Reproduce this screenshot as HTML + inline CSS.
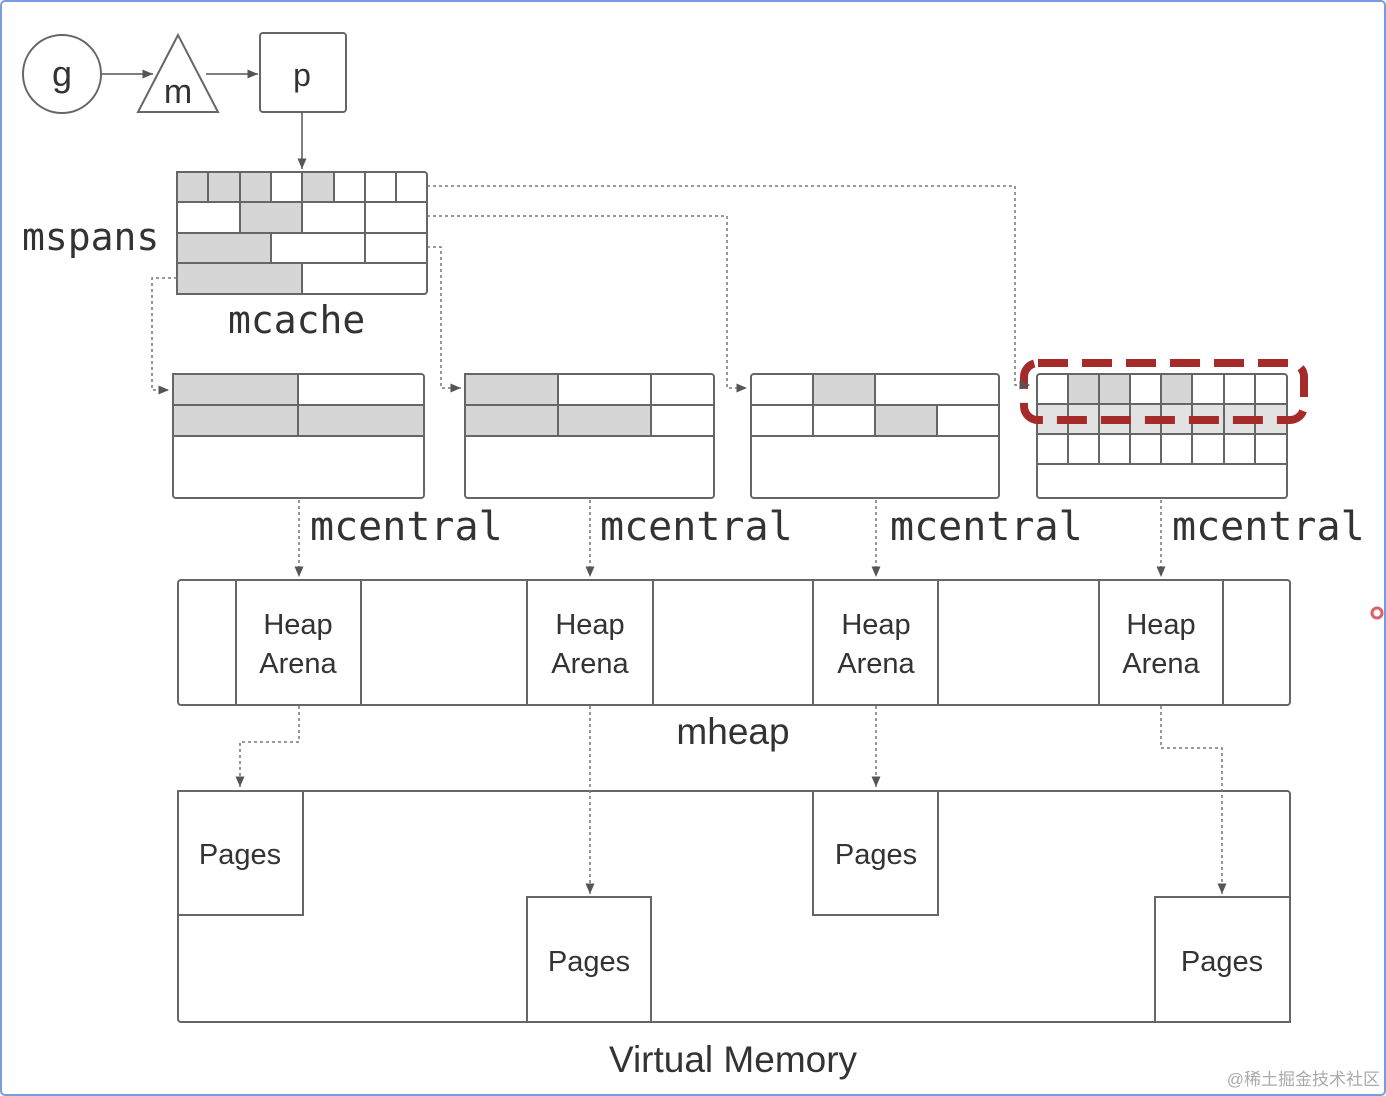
<!DOCTYPE html>
<html><head><meta charset="utf-8"><style>
html,body{margin:0;padding:0;background:#fff}
svg{display:block}
.t{font-family:"Liberation Sans",sans-serif;fill:#333}
.m{font-family:"DejaVu Sans Mono","Liberation Mono",monospace;fill:#333}
</style></head><body>
<svg width="1386" height="1096" viewBox="0 0 1386 1096" xmlns="http://www.w3.org/2000/svg">
<defs>
<marker id="a" markerWidth="8" markerHeight="8" refX="7" refY="4" orient="auto"><path d="M0,1 L7,4 L0,7 z" fill="#555"/></marker>
</defs>
<rect x="1" y="1" width="1384" height="1094" fill="#fff" stroke="#7b9be0" stroke-width="2" rx="4"/>
<g stroke="#666" stroke-width="2" fill="#fff">
<circle cx="62" cy="74" r="39"/>
<polygon points="178,35 138,112 218,112"/>
<rect x="260" y="33" width="86" height="79" rx="3"/>
</g>
<text class="t" x="62" y="86" font-size="36" text-anchor="middle">g</text>
<text class="t" x="178" y="103" font-size="34" text-anchor="middle">m</text>
<text class="t" x="302" y="86" font-size="32" text-anchor="middle">p</text>
<g stroke="#555" stroke-width="1.5" fill="none" marker-end="url(#a)">
<line x1="102" y1="74" x2="153" y2="74"/>
<line x1="206" y1="74" x2="258" y2="74"/>
<line x1="302" y1="112" x2="302" y2="169"/>
</g>
<!-- mcache -->
<g stroke="#666" stroke-width="2">
<rect x="177" y="172" width="250" height="122" rx="3" fill="#fff"/>
<rect x="177" y="172" width="31" height="30" fill="#d6d6d6"/>
<rect x="208" y="172" width="32" height="30" fill="#d6d6d6"/>
<rect x="240" y="172" width="31" height="30" fill="#d6d6d6"/>
<rect x="302" y="172" width="32" height="30" fill="#d6d6d6"/>
<line x1="271" y1="172" x2="271" y2="202"/><line x1="334" y1="172" x2="334" y2="202"/><line x1="365" y1="172" x2="365" y2="202"/><line x1="396" y1="172" x2="396" y2="202"/>
<line x1="177" y1="202" x2="427" y2="202"/>
<rect x="240" y="202" width="62" height="31" fill="#d6d6d6"/>
<line x1="365" y1="202" x2="365" y2="233"/>
<line x1="177" y1="233" x2="427" y2="233"/>
<rect x="177" y="233" width="94" height="30" fill="#d6d6d6"/>
<line x1="365" y1="233" x2="365" y2="263"/>
<line x1="177" y1="263" x2="427" y2="263"/>
<rect x="177" y="263" width="125" height="31" fill="#d6d6d6"/>
</g>
<text class="m" x="22" y="250" font-size="38">mspans</text>
<text class="m" x="228" y="333" font-size="38">mcache</text>
<!-- mcentral -->
<g stroke="#666" stroke-width="2" fill="#fff">
<rect x="173" y="374" width="251" height="124" rx="3"/>
<rect x="173" y="374" width="125" height="31" fill="#d6d6d6"/>
<rect x="173" y="405" width="125" height="31" fill="#d6d6d6"/>
<rect x="298" y="405" width="126" height="31" fill="#d6d6d6"/>
<line x1="298" y1="374" x2="298" y2="405"/><line x1="173" y1="405" x2="424" y2="405"/>
<rect x="465" y="374" width="249" height="124" rx="3"/>
<rect x="465" y="374" width="93" height="31" fill="#d6d6d6"/>
<rect x="465" y="405" width="93" height="31" fill="#d6d6d6"/>
<rect x="558" y="405" width="93" height="31" fill="#d6d6d6"/>
<line x1="558" y1="374" x2="558" y2="405"/><line x1="651" y1="374" x2="651" y2="436"/>
<line x1="465" y1="405" x2="714" y2="405"/><line x1="465" y1="436" x2="714" y2="436"/>
<rect x="751" y="374" width="248" height="124" rx="3"/>
<rect x="813" y="374" width="62" height="31" fill="#d6d6d6"/>
<rect x="875" y="405" width="62" height="31" fill="#d6d6d6"/>
<line x1="751" y1="405" x2="999" y2="405"/><line x1="751" y1="436" x2="999" y2="436"/>
<line x1="813" y1="405" x2="813" y2="436"/>
<rect x="1037" y="374" width="250" height="124" rx="3"/>
<rect x="1068" y="374" width="62" height="30" fill="#d6d6d6"/>
<rect x="1161" y="374" width="31" height="30" fill="#d6d6d6"/>
<rect x="1037" y="404" width="250" height="30" fill="#e2e2e2"/>
<line x1="1037" y1="404" x2="1287" y2="404"/><line x1="1037" y1="434" x2="1287" y2="434"/><line x1="1037" y1="464" x2="1287" y2="464"/>
<line x1="424" y1="405" x2="173" y2="405"/><line x1="173" y1="436" x2="424" y2="436"/>
</g>
<g stroke="#666" stroke-width="2">
<line x1="1068" y1="374" x2="1068" y2="464"/><line x1="1099" y1="374" x2="1099" y2="464"/><line x1="1130" y1="374" x2="1130" y2="464"/><line x1="1161" y1="374" x2="1161" y2="464"/><line x1="1192" y1="374" x2="1192" y2="464"/><line x1="1224" y1="374" x2="1224" y2="464"/><line x1="1255" y1="374" x2="1255" y2="464"/>
</g>
<rect x="1024" y="363" width="280" height="57" rx="14" fill="none" stroke="#a52a2a" stroke-width="8" stroke-dasharray="30,14"/>
<g class="m" font-size="40">
<text x="310" y="540">mcentral</text><text x="600" y="540">mcentral</text><text x="890" y="540">mcentral</text><text x="1172" y="540">mcentral</text>
</g>
<!-- mheap -->
<g stroke="#666" stroke-width="2" fill="#fff">
<rect x="178" y="580" width="1112" height="125" rx="3"/>
<rect x="236" y="580" width="125" height="125"/>
<rect x="527" y="580" width="126" height="125"/>
<rect x="813" y="580" width="125" height="125"/>
<rect x="1099" y="580" width="124" height="125"/>
</g>
<g class="t" font-size="29" text-anchor="middle">
<text x="298" y="634">Heap</text><text x="298" y="673">Arena</text>
<text x="590" y="634">Heap</text><text x="590" y="673">Arena</text>
<text x="876" y="634">Heap</text><text x="876" y="673">Arena</text>
<text x="1161" y="634">Heap</text><text x="1161" y="673">Arena</text>
</g>
<text class="t" x="733" y="744" font-size="37" text-anchor="middle">mheap</text>
<g stroke="#666" stroke-width="2" fill="#fff">
<rect x="178" y="791" width="1112" height="231" rx="3"/>
<rect x="178" y="791" width="125" height="124"/>
<rect x="527" y="897" width="124" height="125"/>
<rect x="813" y="791" width="125" height="124"/>
<rect x="1155" y="897" width="135" height="125"/>
</g>
<g class="t" font-size="29" text-anchor="middle">
<text x="240" y="864">Pages</text><text x="589" y="971">Pages</text><text x="876" y="864">Pages</text><text x="1222" y="971">Pages</text>
</g>
<text class="t" x="733" y="1072" font-size="37" text-anchor="middle">Virtual Memory</text>
<!-- dashed connectors -->
<g stroke="#777" stroke-width="1.5" fill="none" stroke-dasharray="3,3" marker-end="url(#a)">
<path d="M427,186 H1015 V385 H1030"/>
<path d="M427,216 H727 V388 H747"/>
<path d="M427,247 H441 V388 H461"/>
<path d="M177,278 H152 V390 H169"/>
<path d="M299,500 V577"/><path d="M590,500 V577"/><path d="M876,500 V577"/><path d="M1161,500 V577"/>
<path d="M299,706 V742 H240 V787"/>
<path d="M590,706 V894"/>
<path d="M876,706 V787"/>
<path d="M1161,706 V748 H1222 V894"/>
</g>
<circle cx="1377" cy="613" r="5" fill="none" stroke="#e06060" stroke-width="3"/>
<text x="1380" y="1085" font-size="17" text-anchor="end" fill="#aaa" font-family="'Liberation Sans','Noto Sans CJK SC',sans-serif">@稀土掘金技术社区</text>
</svg>
</body></html>
